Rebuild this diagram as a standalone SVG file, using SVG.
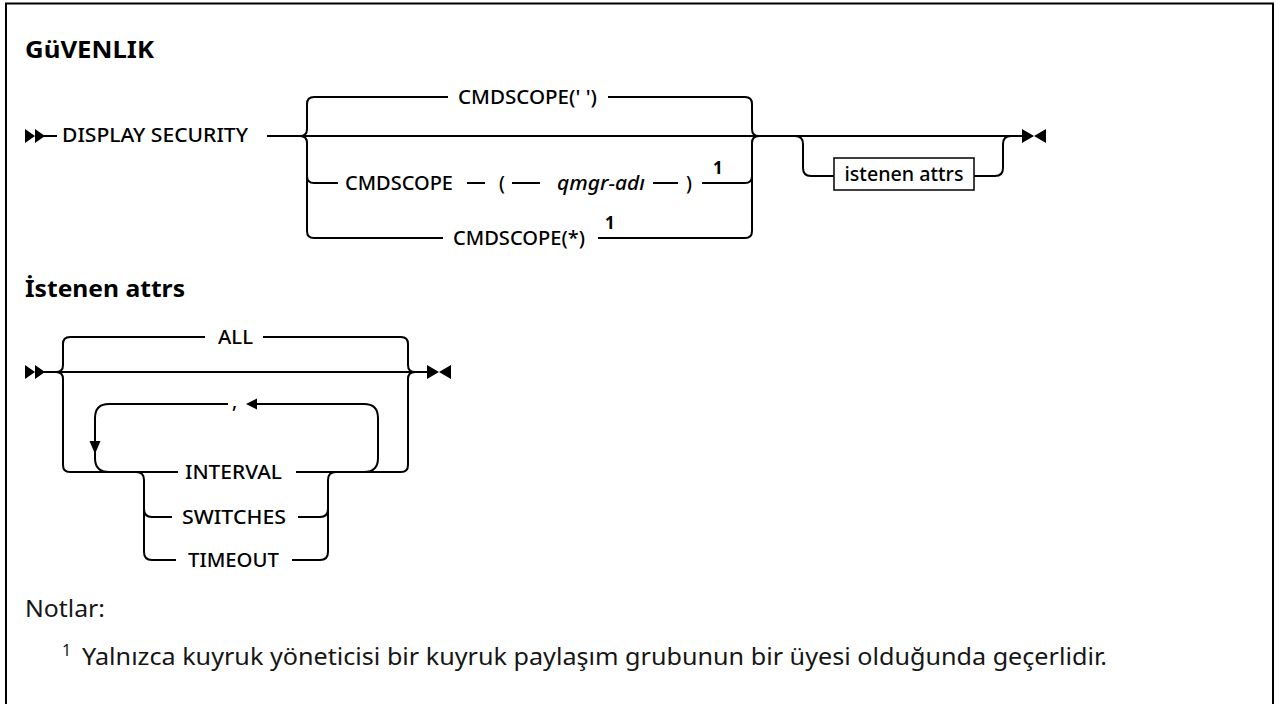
<svg xmlns="http://www.w3.org/2000/svg" width="1276" height="704" viewBox="0 0 1276 704">
<style>
.t{font-family:"Noto Sans","Liberation Sans",sans-serif;font-size:19px;font-weight:500;fill:#000}
.i{font-style:italic}
.sup{font-family:"Noto Sans","Liberation Sans",sans-serif;font-size:17px;font-weight:bold;fill:#000}
.h{font-family:"Noto Sans","Liberation Sans",sans-serif;font-size:23px;font-weight:bold;fill:#000}
.n{font-family:"Noto Sans","Liberation Sans",sans-serif;font-size:24px;fill:#161616}
.r{fill:none;stroke:#000;stroke-width:2}
.m{fill:#000;stroke:none}
</style>
<rect x="6" y="3.5" width="1267" height="740" fill="#fff" stroke="#000" stroke-width="2"/>
<text class="h" x="25" y="58" textLength="129" lengthAdjust="spacingAndGlyphs">GüVENLIK</text>
<text class="h" x="25" y="297" textLength="160" lengthAdjust="spacingAndGlyphs">İstenen attrs</text>

<g id="connectors">
  <!-- diagram 1 -->
  <path class="r" d="M44 136 H57"/>
  <path class="r" d="M267 136 H1023"/>
  <path class="r" d="M300 136 q7 0 7 -7 V104 q0 -7 7 -7 H448 M608 97 H745 q7 0 7 7 V129 q0 7 7 7"/>
  <path class="r" d="M300 136 q7 0 7 7 V231 q0 7 7 7 H443 M598 238 H745 q7 0 7 -7 V143 q0 -7 7 -7"/>
  <path class="r" d="M307 176 q0 7 7 7 H338 M467 183 H485 M512 183 H540 M653 183 H678 M702 183 H745 q7 0 7 -7"/>
  <path class="r" d="M795 136 q8 0 8 8 V168 q0 8 8 8 H834 M974 176 H995 q8 0 8 -8 V144 q0 -8 8 -8"/>
  <!-- diagram 2 -->
  <path class="r" d="M44 372 H428"/>
  <path class="r" d="M56 372 q7 0 7 -7 V344 q0 -7 7 -7 H205 M263 337 H401 q7 0 7 7 V365 q0 7 7 7"/>
  <path class="r" d="M56 372 q7 0 7 7 V465 q0 7 7 7 H178 M296 472 H401 q7 0 7 -7 V379 q0 -7 7 -7"/>
  <path class="r" d="M364 472 q14 0 14 -14 V418 q0 -14 -14 -14 H257 M228 404 H109 q-14 0 -14 14 V458 q0 14 14 14"/>
  <path class="r" d="M136 472 q8 0 8 8 V552 q0 8 8 8 H176 M144 509 q0 8 8 8 H172"/>
  <path class="r" d="M292 560 H320 q8 0 8 -8 V480 q0 -8 8 -8 M298 517 H320 q8 0 8 -8"/>
  <!-- markers -->
  <path class="m" d="M25 129 L35 136 L25 143 Z M35 129 L45 136 L35 143 Z"/>
  <path class="m" d="M1022 129 L1034 136 L1022 143 Z M1046 129 L1034 136 L1046 143 Z"/>
  <path class="m" d="M25 365 L35 372 L25 379 Z M35 365 L45 372 L35 379 Z"/>
  <path class="m" d="M427 365 L439 372 L427 379 Z M451 365 L439 372 L451 379 Z"/>
  <path class="m" d="M246 404 L257 398.5 L257 409.5 Z"/>
  <path class="m" d="M95 454 L89.5 441 L100.5 441 Z"/>
</g>

<g id="n-display"><text class="t" x="62" y="142" textLength="186" lengthAdjust="spacingAndGlyphs">DISPLAY SECURITY</text></g>
<g id="n-cmdscope-blank"><text class="t" x="458" y="104" textLength="139" lengthAdjust="spacingAndGlyphs">CMDSCOPE(' ')</text></g>
<g id="n-cmdscope-qmgr">
  <text class="t" x="345" y="190" textLength="108" lengthAdjust="spacingAndGlyphs">CMDSCOPE</text>
  <text class="t" x="499" y="190">(</text>
  <text class="t i" x="557" y="190" textLength="88" lengthAdjust="spacingAndGlyphs">qmgr-adı</text>
  <text class="t" x="686" y="190">)</text>
  <text class="sup" x="713" y="174">1</text>
</g>
<g id="n-cmdscope-star">
  <text class="t" x="453" y="245" textLength="132" lengthAdjust="spacingAndGlyphs">CMDSCOPE(*)</text>
  <text class="sup" x="605" y="229">1</text>
</g>
<g id="n-istenen">
  <rect x="834" y="158" width="140" height="32" fill="#fff" stroke="#000" stroke-width="1.5"/>
  <text class="t" x="904" y="181" text-anchor="middle" textLength="119" lengthAdjust="spacingAndGlyphs">istenen attrs</text>
</g>
<g id="n-all"><text class="t" x="218" y="344" textLength="35" lengthAdjust="spacingAndGlyphs">ALL</text></g>
<g id="n-comma"><text class="t" x="232" y="408">,</text></g>
<g id="n-interval"><text class="t" x="185" y="479" textLength="97" lengthAdjust="spacingAndGlyphs">INTERVAL</text></g>
<g id="n-switches"><text class="t" x="182" y="524" textLength="104" lengthAdjust="spacingAndGlyphs">SWITCHES</text></g>
<g id="n-timeout"><text class="t" x="188" y="567" textLength="91" lengthAdjust="spacingAndGlyphs">TIMEOUT</text></g>

<g id="notes">
  <text class="n" x="25" y="617" textLength="80" lengthAdjust="spacingAndGlyphs">Notlar:</text>
  <text class="n" x="62" y="656" style="font-size:16px">1</text>
  <text class="n" x="82" y="665" textLength="1025" lengthAdjust="spacingAndGlyphs">Yalnızca kuyruk yöneticisi bir kuyruk paylaşım grubunun bir üyesi olduğunda geçerlidir.</text>
</g>
</svg>
